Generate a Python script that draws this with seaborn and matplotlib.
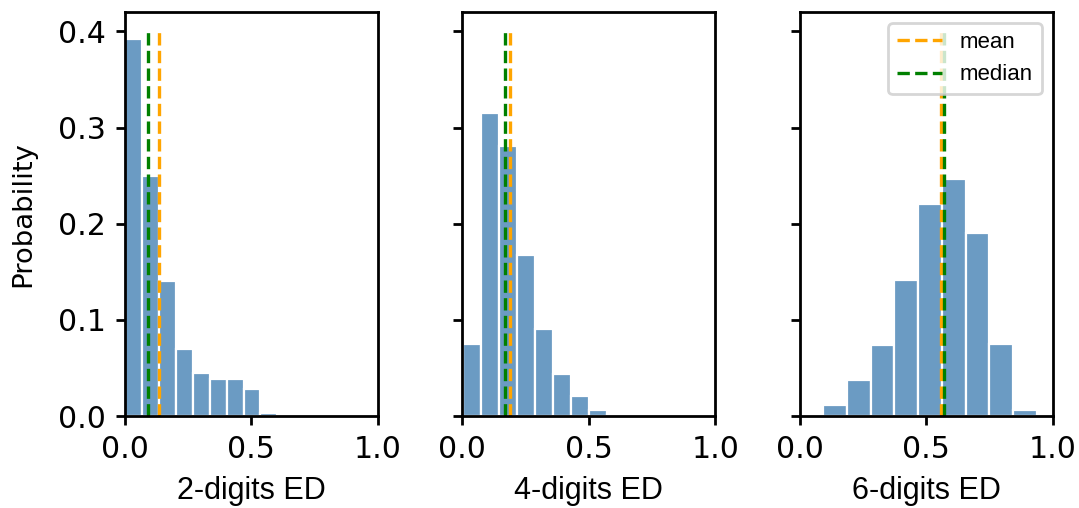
import numpy as np
import pandas as pd
import matplotlib
matplotlib.use("Agg")
import matplotlib.pyplot as plt
import seaborn as sns

# bin edges and probabilities
edges_2 = [0.0, 0.067, 0.134, 0.201, 0.268, 0.335, 0.402, 0.469, 0.536, 0.603]
probs_2 = [0.392, 0.250, 0.140, 0.070, 0.045, 0.0385, 0.0385, 0.028, 0.003]

edges_4 = [0.004, 0.075, 0.146, 0.217, 0.288, 0.359, 0.430, 0.501, 0.572, 0.643]
probs_4 = [0.075, 0.315, 0.281, 0.168, 0.091, 0.044, 0.021, 0.006, 0.002]

edges_6 = [0.092, 0.186, 0.280, 0.374, 0.468, 0.562, 0.656, 0.750, 0.844, 0.938]
probs_6 = [0.0115, 0.0375, 0.074, 0.141, 0.221, 0.247, 0.190, 0.075, 0.006]

means = [0.134, 0.190, 0.557]
medians = [0.092, 0.168, 0.569]
xlabels = ["2-digits ED", "4-digits ED", "6-digits ED"]

sns.set_style("ticks")
plt.rcParams['font.family'] = ['DejaVu Sans']
plt.rcParams['text.color'] = 'black'
plt.rcParams['axes.labelcolor'] = 'black'
plt.rcParams['xtick.color'] = 'black'
plt.rcParams['ytick.color'] = 'black'

fig, axes = plt.subplots(1, 3, figsize=(1079 / 200, 508 / 200), dpi=200, sharey=True)
fig.subplots_adjust(left=0.1158, right=0.9756, top=0.976, bottom=0.181, wspace=0.335)

panels = [(edges_2, probs_2), (edges_4, probs_4), (edges_6, probs_6)]
for i, (ax, (edges, probs)) in enumerate(zip(axes, panels)):
    e = np.array(edges)
    df = pd.DataFrame({"x": (e[:-1] + e[1:]) / 2, "p": probs})
    sns.histplot(data=df, x="x", weights="p", bins=edges, stat="count",
                 color="steelblue", alpha=0.8, edgecolor="white", linewidth=0.8, ax=ax)
    ax.vlines(means[i], 0, 0.4, colors="orange", linestyles="--", linewidth=1.2, label="mean")
    ax.vlines(medians[i], 0, 0.4, colors="green", linestyles="--", linewidth=1.2, label="median")
    ax.set_xlim(0, 1)
    ax.set_ylim(0, 0.42)
    ax.set_xticks([0.0, 0.5, 1.0])
    ax.set_xlabel(xlabels[i], fontsize=11, family="Liberation Sans", labelpad=4.5)
    ax.tick_params(labelsize=10.8, length=3.2, width=1)
    for s in ax.spines.values():
        s.set_linewidth(1)
        s.set_color("black")
    if i == 0:
        ax.set_ylabel("Probability", fontsize=9.9, labelpad=8)
    else:
        ax.set_ylabel("")

axes[0].set_yticks([0.0, 0.1, 0.2, 0.3, 0.4])
axes[2].legend(loc="upper right", prop={"family": "Liberation Sans", "size": 8})

plt.savefig("out.png", dpi=200)
